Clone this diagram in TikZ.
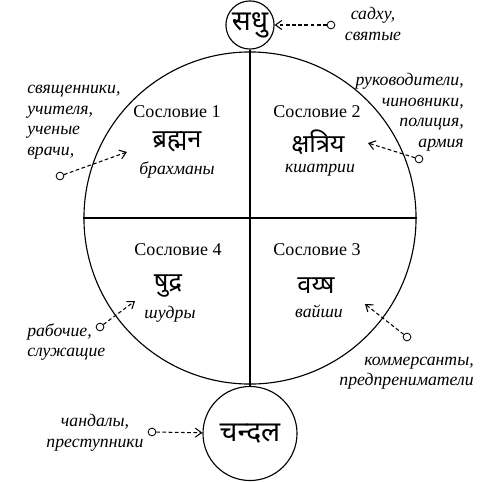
\documentclass[tikz,border=0pt]{standalone}
\usepackage{fontspec}
\setmainfont{Liberation Serif}
\newfontfamily\deva[Script=Devanagari]{Noto Sans}
\usetikzlibrary{arrows,arrows.meta,positioning,calc}
\tikzset{
    krug/.style={
        circle,                   % основная форма: круг
        draw=black,               % чёрный контур
        thick,                    % линия чуть толще обычной
        inner sep=0pt             % текст внутри не раздувает круг
    },
    soslovie/.style={
        font=\fontsize{12.8}{15}\selectfont, % заголовок квадранта
        inner sep=1pt
    },
    varna/.style={
        font=\deva\fontsize{#1}{#1}\selectfont, % санскритское название
        inner sep=1pt
    },
    perevod/.style={
        font=\itshape\fontsize{12.6}{15}\selectfont, % русское название курсивом
        inner sep=1pt
    },
    primechanie/.style={
        font=\itshape\fontsize{12.6}{14.6}\selectfont, % подписи снаружи круга
        align=#1,                 % выравнивание строк задаётся снаружи
        inner sep=0pt
    },
    metka/.style={
        circle,                   % маленький кружок в начале стрелки
        draw=black,
        semithick,
        fill=white,
        inner sep=0pt,
        minimum size=5.5pt
    },
    strelka/.style={
        -{Straight Barb[length=4.5pt,width=6.5pt]}, % стрелка к цели
        dash pattern=on 2.6pt off 1.8pt,             % частый пунктир
        line width=0.75pt
    }
}

\begin{document}
\begin{tikzpicture}[x=0.025cm,y=-0.025cm]
    \useasboundingbox (0,0) rectangle (482,482);

    % круги
    \node[krug, minimum size=8.3cm] (krug) at (250,218) {};
    \node[krug, minimum size=1.2cm, varna=20] (sadhu) at (250,25) {सधु};
    \node[krug, minimum size=2.35cm, varna=20] (chandal) at (250,433.5) {चन्दल};

    \draw[thick] (sadhu.south) -- (chandal.north);
    \draw[thick] (krug.west) -- (krug.east);

    % квадранты
    \node[soslovie] (s1) at (177,112) {Сословие 1};
    \node[varna=18] (v1) at (177,142) {ब्रह्मन};
    \node[perevod] (p1) at (177,170) {брахманы};

    \node[soslovie] (s2) at (317,112) {Сословие 2};
    \node[varna=18] (v2) at (318,142) {क्षत्रिय};
    \node[perevod] (p2) at (320,170) {кшатрии};

    \node[soslovie] (s4) at (178,250) {Сословие 4};
    \node[varna=18] (v4) at (168,286) {षुद्र};
    \node[perevod] (p4) at (170,314) {шудры};

    \node[soslovie] (s3) at (317,250) {Сословие 3};
    \node[varna=18] (v3) at (316,286) {वय्ष};
    \node[perevod] (p3) at (319,311) {вайши};

    % подписи снаружи
    \node[primechanie=center] (n0) at (373,24) {садху,\\святые};
    \node[primechanie=left, anchor=west] (n1) at (27,122) {священники,\\учителя,\\ученые\\врачи,};
    \node[primechanie=right, anchor=east] (n2) at (464,112) {руководители,\\чиновники,\\полиция,\\армия};
    \node[primechanie=left, anchor=west] (n4) at (27,342) {рабочие,\\служащие};
    \node[primechanie=right, anchor=east] (n3) at (474,373) {коммерсанты,\\предпрениматели};
    \node[primechanie=center] (n5) at (95,433) {чандалы,\\преступники};

    % метки и стрелки
    \node[metka] (m0) at (331,25) {};
    \node[metka] (m1) at (60,176) {};
    \node[metka] (m2) at (419,159) {};
    \node[metka] (m4) at (100,327) {};
    \node[metka] (m3) at (407,337) {};
    \node[metka] (m5) at (152,432) {};

    \coordinate (c1) at (127,152);
    \coordinate (c2) at (368,143);
    \coordinate (c4) at (135,301);
    \coordinate (c3) at (365,304);

    \draw[strelka] (m0) -- (sadhu);
    \draw[strelka] (m1) -- (c1);
    \draw[strelka] (m2) -- (c2);
    \draw[strelka] (m4) -- (c4);
    \draw[strelka] (m3) -- (c3);
    \draw[strelka] (m5) -- (chandal);
\end{tikzpicture}
\end{document}
